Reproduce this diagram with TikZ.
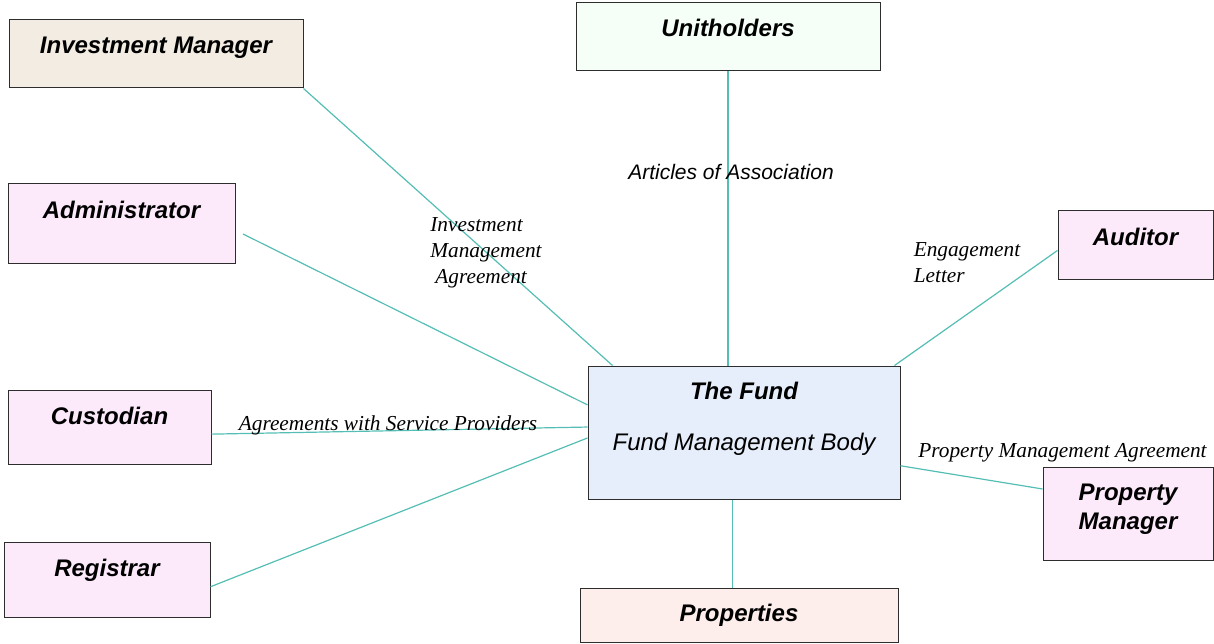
\documentclass[tikz,border=0pt]{standalone}
\usepackage{fontspec}
\setmainfont{Liberation Serif}
\setsansfont{Liberation Sans}

\definecolor{linkteal}{RGB}{84,190,180}
\definecolor{edgegrey}{RGB}{45,45,45}
\definecolor{pinkbox}{RGB}{252,234,251}
\definecolor{beigebox}{RGB}{242,236,226}
\definecolor{mintbox}{RGB}{245,255,248}
\definecolor{bluebox}{RGB}{230,237,251}
\definecolor{rosebox}{RGB}{253,238,236}

\begin{document}
\begin{tikzpicture}[x=1pt,y=1pt]
		\tikzstyle{every node}+=[inner sep=0pt]
		\tikzstyle{party}=[draw=edgegrey, line width=1pt, fill=pinkbox, align=center, font=\sffamily\bfseries\itshape\fontsize{24}{29}\selectfont]
		\tikzstyle{oneline}=[text height=17pt, text depth=17pt]
		\tikzstyle{link}=[draw=linkteal, line width=1.2pt]
		\tikzstyle{deal}=[align=left, font=\rmfamily\itshape\fontsize{21.3}{25.8}\selectfont]
		\tikzstyle{clause}=[font=\sffamily\itshape\fontsize{21}{25}\selectfont]
		\useasboundingbox (0,0) rectangle (1214,-644);
		% parties round the fund
		\node [party, oneline, fill=beigebox, minimum width=294pt, minimum height=68pt] (manager) at (156,-54) {Investment Manager};
		\node [party, oneline, fill=mintbox, minimum width=304pt, minimum height=68pt] (unit) at (728,-37) {Unitholders};
		\node [party, oneline, text depth=27pt, minimum width=227pt, minimum height=79pt] (admin) at (121.5,-223.5) {Administrator};
		\node [party, oneline, minimum width=155pt, minimum height=68pt] (auditor) at (1135.5,-245) {Auditor};
		\node [party, oneline, text depth=22pt, minimum width=203pt, minimum height=74pt] (custodian) at (109.5,-427) {Custodian};
		\node [party, oneline, text depth=23pt, minimum width=206pt, minimum height=75pt] (registrar) at (107,-579.5) {Registrar};
		\node [party, minimum width=170pt, minimum height=93pt] (propmanager) at (1128,-513.5) {};
		\node [align=center, font=\sffamily\bfseries\itshape\fontsize{24}{29}\selectfont] (pmname) at ([yshift=4pt]propmanager.center) {Property\\Manager};
		\node [party, oneline, text depth=4pt, fill=rosebox, minimum width=318pt, minimum height=54pt] (properties) at (739,-615) {Properties};
		% the fund itself
		\node [party, fill=bluebox, minimum width=312pt, minimum height=133pt] (fund) at (744,-432.5) {};
		\node [anchor=base, font=\sffamily\bfseries\itshape\fontsize{24}{29}\selectfont] (fundname) at ([yshift=-33.6pt]fund.north) {The Fund};
		\node [anchor=base, font=\sffamily\itshape\fontsize{24}{29}\selectfont] (fundbody) at ([yshift=49.4pt]fund.south) {Fund Management Body};
		% agreements
		\coordinate (adminend) at (243,-234);
		\draw [link] (manager.south east) -- (fund.153.6);
		\draw [link] (unit.south) -- (unit.south |- fund.north);
		\draw [link] (adminend) -- (fund.170.2);
		\draw [link] (custodian.-4.5) -- (fund.178.7);
		\draw [link] (registrar.-4.7) -- (fund.-178.7);
		\draw [link] (auditor.-176.3) -- (fund.24.8);
		\draw [link] (fund.-12.6) -- (propmanager.164.5);
		\draw [link] (properties.104.5) -- (properties.104.5 |- fund.south);
		\node [clause] (articles) at (731,-172) {Articles of Association};
		\node [deal] (imadeal) at (486,-252.5) {Investment\\Management\\\hspace*{5pt}Agreement};
		\node [deal] (engage) at (967,-263) {Engagement\\Letter};
		\node [deal] (services) at (388,-425.5) {Agreements with Service Providers};
		\node [deal] (pmadeal) at (1062.5,-453) {Property Management Agreement};
	\end{tikzpicture}
\end{document}
